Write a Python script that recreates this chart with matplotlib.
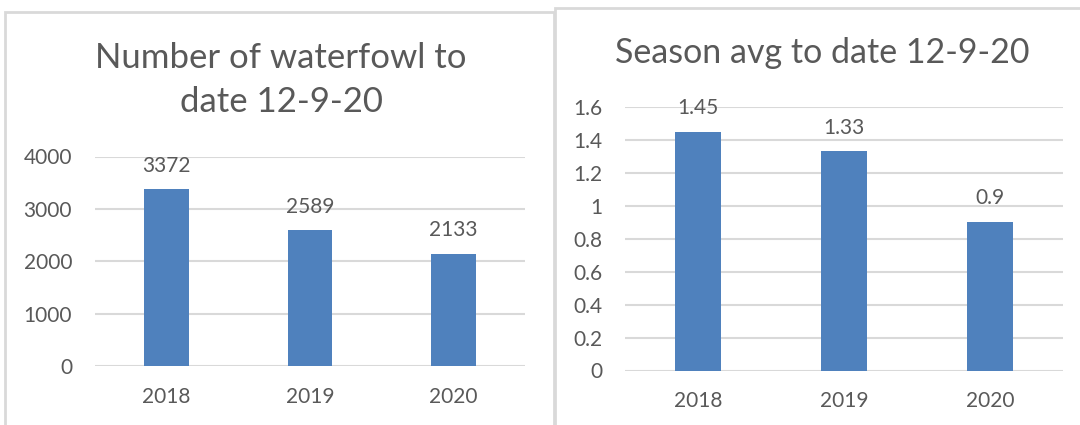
import matplotlib
matplotlib.use("Agg")
import matplotlib.pyplot as plt
from matplotlib.patches import Rectangle

plt.rcParams['font.family'] = ['Lato', 'DejaVu Sans']

# data
years = ["2018", "2019", "2020"]
waterfowl = [3372, 2589, 2133]
season_avg = [1.45, 1.33, 0.9]
avg_labels = ["1.45", "1.33", "0.9"]

bar_color = "#4F81BD"
text_color = "#595959"
grid_color = "#D9D9D9"

W, H = 1080, 425
fig = plt.figure(figsize=(W / 100, H / 100), dpi=100)


def px_axes(x0, x1, y_top, y_bot):
    # pixel box -> figure fraction
    return fig.add_axes([x0 / W, (H - y_bot) / H, (x1 - x0) / W, (y_bot - y_top) / H])


def style(ax, ymax, step):
    ax.set_xlim(-0.5, 2.5)
    ax.set_ylim(0, ymax)
    ax.set_yticks([i * step for i in range(int(round(ymax / step)) + 1)])
    for s in ax.spines.values():
        s.set_visible(False)
    ax.yaxis.grid(True, color=grid_color, lw=1.5)
    ax.set_axisbelow(True)
    ax.tick_params(length=0, colors=text_color, labelsize=15)
    ax.tick_params(axis='y', pad=16.5)
    ax.tick_params(axis='x', pad=15)


# chart frames
fig.patches.append(Rectangle((5 / W, -0.1), 549 / W, (H - 12) / H + 0.1,
                             transform=fig.transFigure, fill=False,
                             ec=grid_color, lw=2))
fig.patches.append(Rectangle((555 / W, -0.1), 0.6, (H - 8) / H + 0.1,
                             transform=fig.transFigure, fill=False,
                             ec=grid_color, lw=2))

# left chart
ax1 = px_axes(95, 525, 156.5, 366)
ax1.bar(range(3), waterfowl, width=0.31, color=bar_color, zorder=3)
style(ax1, 4000, 1000)
ax1.set_xticks(range(3), years)
for i, v in enumerate(waterfowl):
    ax1.annotate(str(v), (i, v), xytext=(0, 10), textcoords="offset points",
                 ha="center", va="bottom", color=text_color, fontsize=15)
fig.text(281 / W, 1 - 80 / H, "Number of waterfowl to\ndate 12-9-20",
         ha="center", va="center", color=text_color, fontsize=25,
         linespacing=1.45)

# right chart
ax2 = px_axes(625, 1063, 107, 370.5)
ax2.bar(range(3), season_avg, width=0.31, color=bar_color, zorder=3)
style(ax2, 1.6, 0.2)
ax2.set_xticks(range(3), years)
ax2.set_yticklabels(["0", "0.2", "0.4", "0.6", "0.8", "1", "1.2", "1.4", "1.6"])
for i, v in enumerate(season_avg):
    ax2.annotate(avg_labels[i], (i, v), xytext=(0, 10), textcoords="offset points",
                 ha="center", va="bottom", color=text_color, fontsize=15)
fig.text(822 / W, 1 - 53 / H, "Season avg to date 12-9-20",
         ha="center", va="center", color=text_color, fontsize=24.5)

fig.savefig("out.png", dpi=100)
